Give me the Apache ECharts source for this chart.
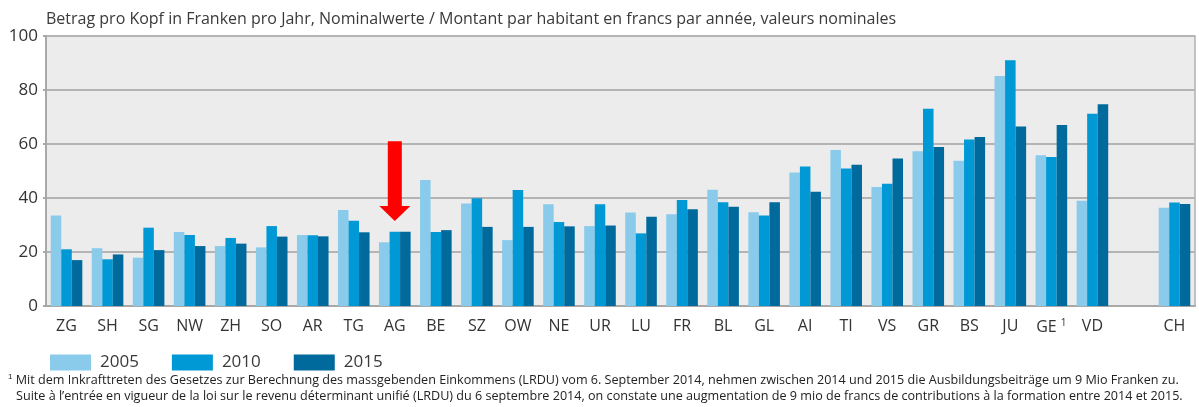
<!DOCTYPE html>
<html>
<head>
<meta charset="utf-8">
<script src="https://cdn.jsdelivr.net/npm/echarts@6/dist/echarts.min.js"></script>
<style>
  html, body { margin: 0; padding: 0; background: #fff; }
  #c { width: 1199px; height: 407px; }
</style>
</head>
<body>
<div id="c"></div>
<script>
// Kantone (leerer Platz vor CH)
var cantons = ['ZG','SH','SG','NW','ZH','SO','AR','TG','AG','BE','SZ','OW','NE','UR','LU','FR','BL','GL','AI','TI','VS','GR','BS','JU','GE','VD','','CH'];
var v2005 = [33.5,21.4,17.9,27.4,22.2,21.7,26.3,35.6,23.6,46.7,38.0,24.4,37.7,29.6,34.6,34.0,43.1,34.7,49.4,57.8,44.1,57.3,53.8,85.2,55.8,39.0,'-',36.4];
var v2010 = [21.0,17.3,29.0,26.3,25.2,29.6,26.2,31.6,27.5,27.4,39.9,43.0,31.1,37.7,26.9,39.3,38.4,33.5,51.7,50.9,45.3,73.1,61.7,91.0,55.2,71.2,'-',38.3];
var v2015 = [17.0,19.1,20.7,22.2,23.1,25.7,25.8,27.3,27.5,28.1,29.3,29.3,29.5,29.8,33.1,35.8,36.8,38.4,42.3,52.3,54.6,58.9,62.6,66.5,67.0,74.7,'-',37.8];
var years = ['2005','2010','2015'];
var colors = ['#8acbeb','#0099d5','#006a9c'];
var yTicks = [0, 20, 40, 60, 80, 100];

// Pfeil bei AG (Wertebereich)
var arrowCat = 'AG';
var arrowTop = 61, arrowHeadBase = 37, arrowTip = 31.5;

var font = '"Open Sans", sans-serif';
var myChart = echarts.init(document.getElementById('c'));

var option = {
    animation: false,
    color: colors,
    title: {
        text: 'Betrag pro Kopf in Franken pro Jahr, Nominalwerte / Montant par habitant en francs par année, valeurs nominales',
        left: 41, top: 6,
        textStyle: { fontFamily: font, fontSize: 16, fontWeight: 'normal', color: '#3a3a3a' }
    },
    grid: {
        left: 46, right: 4, top: 36, bottom: 101,
        show: true, backgroundColor: '#ececec', borderColor: '#b0b0b0', borderWidth: 1.5
    },
    legend: {
        data: years,
        left: 45, top: 349,
        itemWidth: 41, itemHeight: 16, itemGap: 33,
        icon: 'rect',
        textStyle: { fontFamily: font, fontSize: 17, color: '#3a3a3a', padding: [0, 0, 0, 4] }
    },
    xAxis: {
        type: 'category',
        data: cantons,
        axisLine: { lineStyle: { color: '#a8a8a8', width: 2 } },
        axisTick: { show: false },
        axisLabel: {
            interval: 0, margin: 12,
            fontFamily: font, fontSize: 16, color: '#333',
            formatter: function (v) { return v === 'GE' ? 'GE {sup|1}' : v; },
            rich: { sup: { fontSize: 10, verticalAlign: 'top', padding: [0, 0, 8, 0], fontFamily: font, color: '#333' } }
        }
    },
    yAxis: {
        type: 'value',
        min: yTicks[0], max: yTicks[yTicks.length - 1], interval: 20,
        axisLine: { show: true, lineStyle: { color: '#a8a8a8', width: 2 } },
        axisTick: { show: true, length: 3, lineStyle: { color: '#a8a8a8', width: 2 } },
        axisLabel: { margin: 8, fontFamily: font, fontSize: 17, color: '#333' },
        splitLine: { lineStyle: { color: '#b4b4b4', width: 2 } }
    },
    series: [
        { name: years[0], type: 'bar', data: v2005, barGap: '0%', barCategoryGap: '23%' },
        { name: years[1], type: 'bar', data: v2010, barGap: '0%', barCategoryGap: '23%' },
        { name: years[2], type: 'bar', data: v2015, barGap: '0%', barCategoryGap: '23%' }
    ],
    graphic: [
        {
            id: 'fn1', type: 'text', left: 8, top: 373,
            style: {
                text: '{s|1} Mit dem Inkrafttreten des Gesetzes zur Berechnung des massgebenden Einkommens (LRDU) vom 6. September 2014, nehmen zwischen 2014 und 2015 die Ausbildungsbeiträge um 9 Mio Franken zu.',
                font: '12.6px ' + font, fill: '#222',
                rich: { s: { fontSize: 8, verticalAlign: 'top', padding: [0, 0, 6, 0], fill: '#222' } }
            }
        },
        {
            id: 'fn2', type: 'text', left: 16, top: 390,
            style: {
                text: 'Suite à l\u2019entrée en vigueur de la loi sur le revenu déterminant unifié (LRDU) du 6 septembre 2014, on constate une augmentation de 9 mio de francs de contributions à la formation entre 2014 et 2015.',
                font: '12.6px ' + font, fill: '#222'
            }
        }
    ]
};
myChart.setOption(option);

// Pfeil über AG
var pTop = myChart.convertToPixel({ gridIndex: 0 }, [arrowCat, arrowTop]);
var pBase = myChart.convertToPixel({ gridIndex: 0 }, [arrowCat, arrowHeadBase]);
var pTip = myChart.convertToPixel({ gridIndex: 0 }, [arrowCat, arrowTip]);
var cx = pTop[0], sw = 7, hw = 15.5;
myChart.setOption({
    graphic: [{
        id: 'arrow', type: 'polygon', z: 100,
        shape: { points: [
            [cx - sw, pTop[1]], [cx + sw, pTop[1]], [cx + sw, pBase[1]], [cx + hw, pBase[1]],
            [cx, pTip[1]], [cx - hw, pBase[1]], [cx - sw, pBase[1]]
        ] },
        style: { fill: '#ff0000' }
    }]
});
</script>
</body>
</html>
